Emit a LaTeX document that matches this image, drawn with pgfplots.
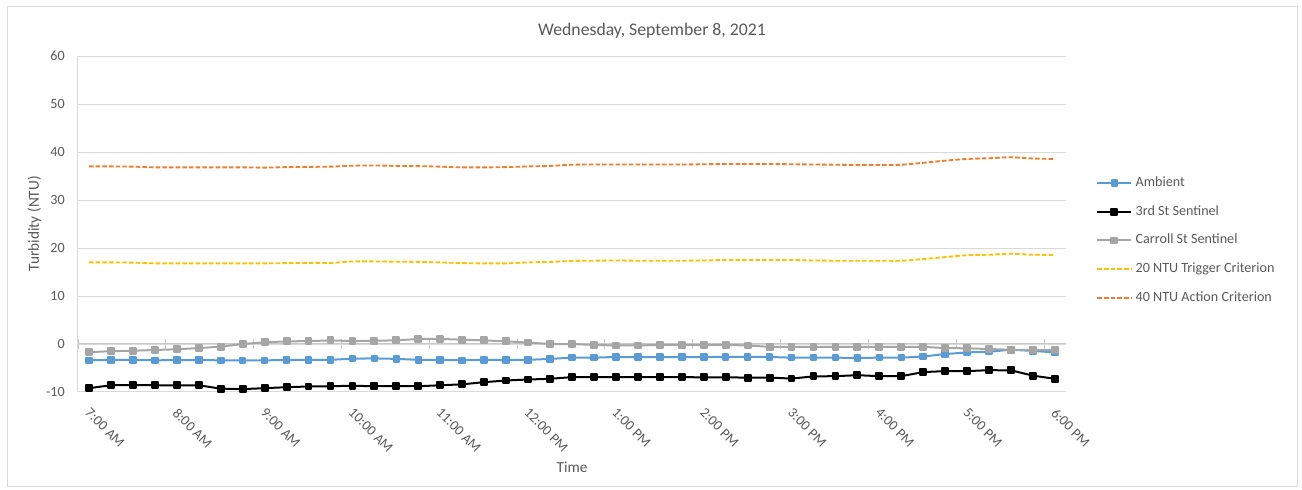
\documentclass[border=0pt]{standalone}
\usepackage{fontspec}
\setmainfont{Carlito}
\usepackage{pgfplots}
\usepackage{pgfplotstable}
\pgfplotsset{compat=1.18}

\definecolor{ambient}{HTML}{5B9BD5}
\definecolor{carroll}{HTML}{A5A5A5}
\definecolor{trigger}{HTML}{FFC000}
\definecolor{action}{HTML}{ED7D31}
\definecolor{txt}{HTML}{595959}
\definecolor{gridc}{HTML}{D9D9D9}
\definecolor{zeroc}{HTML}{C8C8C8}
\newcommand{\tickfont}{\fontsize{10.6pt}{12.7pt}\selectfont}
\newcommand{\labelfont}{\fontsize{11.5pt}{13.8pt}\selectfont}

% 15-minute readings, 7:00 AM (idx 0) to 6:00 PM (idx 44)
\pgfplotstableread{
idx amb third carroll trig act
0  -3.40 -9.20 -1.70 17.00 37.00
1  -3.30 -8.60 -1.50 17.00 37.00
2  -3.30 -8.55 -1.40 16.95 36.95
3  -3.40 -8.60 -1.25 16.80 36.80
4  -3.35 -8.60 -1.10 16.80 36.80
5  -3.35 -8.60 -0.85 16.80 36.80
6  -3.40 -9.30 -0.55 16.80 36.80
7  -3.40 -9.40  0.00 16.80 36.80
8  -3.40 -9.20  0.35 16.80 36.75
9  -3.35 -9.00  0.55 16.85 36.85
10 -3.30 -8.85  0.60 16.90 36.90
11 -3.30 -8.80  0.75 16.90 36.95
12 -3.05 -8.70  0.60 17.20 37.15
13 -3.00 -8.80  0.70 17.20 37.20
14 -3.10 -8.80  0.75 17.15 37.10
15 -3.30 -8.80  1.05 17.10 37.05
16 -3.30 -8.60  1.05 17.00 36.95
17 -3.40 -8.40  0.90 16.85 36.80
18 -3.30 -7.95  0.75 16.80 36.80
19 -3.35 -7.60  0.55 16.80 36.85
20 -3.30 -7.40  0.30 17.00 37.00
21 -3.10 -7.25  0.00 17.10 37.10
22 -2.85 -6.90  0.00 17.30 37.35
23 -2.85 -6.90 -0.20 17.35 37.40
24 -2.70 -6.90 -0.30 17.40 37.40
25 -2.75 -6.90 -0.30 17.35 37.40
26 -2.75 -6.90 -0.20 17.35 37.40
27 -2.75 -6.90 -0.20 17.35 37.40
28 -2.70 -6.95 -0.20 17.40 37.45
29 -2.70 -6.95 -0.20 17.50 37.50
30 -2.70 -7.00 -0.30 17.50 37.50
31 -2.70 -7.00 -0.60 17.50 37.50
32 -2.85 -7.20 -0.60 17.50 37.45
33 -2.85 -6.75 -0.60 17.40 37.40
34 -2.85 -6.70 -0.60 17.35 37.35
35 -2.90 -6.50 -0.60 17.35 37.30
36 -2.85 -6.70 -0.60 17.35 37.30
37 -2.85 -6.70 -0.60 17.35 37.35
38 -2.60 -5.85 -0.60 17.70 37.75
39 -2.10 -5.65 -0.85 18.10 38.20
40 -1.75 -5.65 -0.90 18.50 38.55
41 -1.60 -5.45 -1.05 18.60 38.70
42 -1.20 -5.50 -1.20 18.80 38.90
43 -1.45 -6.60 -1.25 18.60 38.65
44 -1.75 -7.25 -1.25 18.55 38.55
}\turb

\begin{document}
\begin{tikzpicture}[x=0.75pt,y=0.75pt]
\path[use as bounding box] (0,0) rectangle (1302,489);
\draw[gridc, line width=0.75pt] (7,3) rectangle (1297,482);
\node[text=txt, font=\fontsize{13.3pt}{16pt}\selectfont] at (652,458) {Wednesday,\ September 8, 2021};

% horizontal axis line crossing at 0, with hour ticks between categories
\begin{axis}[
    at={(58.5pt,72.75pt)}, anchor=south west,
    width=741pt, height=252pt, scale only axis,
    xmin=-0.5, xmax=44.5, ymin=-10, ymax=60,
    axis x line=middle, axis y line=none,
    x axis line style={-, draw=zeroc, line width=0.75pt},
    xtick={-0.5,3.5,...,43.5}, xticklabels={},
    ytick=\empty,
    tick align=center, major tick length=6.75pt,
    tick style={draw=zeroc, line width=0.75pt},
]
\end{axis}

\begin{axis}[
    at={(58.5pt,72.75pt)}, anchor=south west,
    width=741pt, height=252pt, scale only axis,
    xmin=-0.5, xmax=44.5, ymin=-10, ymax=60,
    axis lines*=left,
    axis line style={-, draw=gridc, line width=0.75pt},
    ymajorgrids,
    grid style={draw=gridc, line width=0.75pt},
    ytick={-10,0,...,60},
    xtick={0,4,...,44},
    xticklabels={7:00 AM,8:00 AM,9:00 AM,10:00 AM,11:00 AM,12:00 PM,1:00 PM,2:00 PM,3:00 PM,4:00 PM,5:00 PM,6:00 PM},
    major tick length=0pt,
    tick label style={font=\tickfont, text=txt},
    /pgf/number format/assume math mode=true,
    yticklabel style={anchor=east, inner sep=0pt, xshift=-9.75pt},
    xticklabel style={yshift=-11.25pt, xshift=1.5pt, inner sep=0pt, rotate=-45, anchor=north west},
    xlabel={Time},
    xlabel style={at={(axis description cs:0.5,0)}, anchor=center, yshift=-56.25pt, font=\labelfont, text=txt},
    ylabel={Turbidity (NTU)},
    ylabel style={at={(axis description cs:-0.044,0.501)}, anchor=center, font=\labelfont, text=txt},
    legend style={
        at={(axis description cs:1.0304,0.451)}, anchor=west,
        draw=none, fill=none, inner sep=0pt,
        font=\tickfont, text=txt,
        row sep=11.45pt, column sep=2.5pt,
        nodes={inner sep=0pt, text height=7.5pt, text depth=2.5pt},
    },
    legend cell align=left,
    legend image code/.code={
        \draw[mark repeat=2, mark phase=2, #1] plot coordinates {(0pt,0pt) (12.75pt,0pt) (25.5pt,0pt)};
    },
    every axis plot/.append style={line join=round},
]
\addplot[ambient, line width=1.5pt, mark=square*, mark size=2.1pt, mark options={solid}] table[x=idx, y=amb] {\turb};
\addlegendentry{Ambient}
\addplot[black, line width=1.5pt, mark=square*, mark size=2.2pt, mark options={solid}] table[x=idx, y=third] {\turb};
\addlegendentry{3rd St Sentinel}
\addplot[carroll, line width=1.5pt, mark=square*, mark size=2.2pt, mark options={solid}] table[x=idx, y=carroll] {\turb};
\addlegendentry{Carroll St Sentinel}
\addplot[trigger, line width=1.4pt, dash pattern=on 3.4pt off 1.6pt, smooth] table[x=idx, y=trig] {\turb};
\addlegendentry{20 NTU Trigger Criterion}
\addplot[action, line width=1.4pt, dash pattern=on 3.4pt off 1.6pt, smooth] table[x=idx, y=act] {\turb};
\addlegendentry{40 NTU Action Criterion}
\end{axis}
\end{tikzpicture}
\end{document}
